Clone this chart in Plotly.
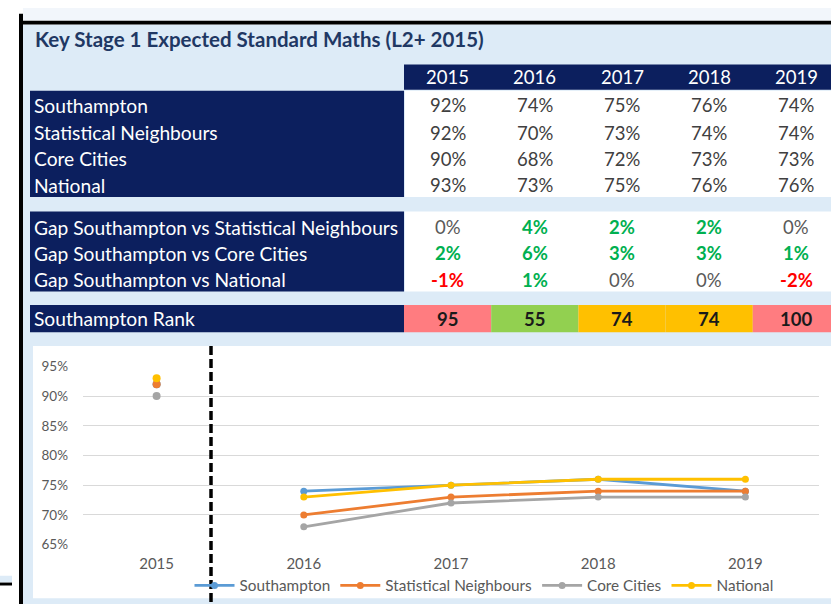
import plotly.graph_objects as go

# ---------------- data ----------------
years = ['2015', '2016', '2017', '2018', '2019']
series_names = ['Southampton', 'Statistical Neighbours', 'Core Cities', 'National']
southampton = [92, 74, 75, 76, 74]
stat_neighbours = [92, 70, 73, 74, 74]
core_cities = [90, 68, 72, 73, 73]
national = [93, 73, 75, 76, 76]
rank_values = [95, 55, 74, 74, 100]
gap_labels = ['Gap Southampton vs Statistical Neighbours',
              'Gap Southampton vs Core Cities',
              'Gap Southampton vs National']
rank_label = 'Southampton Rank'
title_text = 'Key Stage 1 Expected Standard Maths (L2+ 2015)'
y_ticks = [65, 70, 75, 80, 85, 90, 95]

# ---------------- styles ----------------
series_colors = ['#5B9BD5', '#ED7D31', '#A5A5A5', '#FFC000']
rank_colors = ['#FF7C80', '#92D050', '#FFC000', '#FFC000', '#FF7C80']
NAVY = '#0C1F5E'
LIGHT = '#DDEBF7'
FONT = 'Lato'

W, H = 831, 612
def px(x): return x / W
def py(y): return 1 - y / H

shapes = []
def rect(x0, y0, x1, y1, color, layer='below'):
    shapes.append(dict(type='rect', xref='paper', yref='paper',
                       x0=px(x0), x1=px(x1), y0=py(y1), y1=py(y0),
                       fillcolor=color, line=dict(width=0), layer=layer))

# backgrounds
rect(23, 0, 831, 13, '#F2F6FB')
rect(23, 17, 831, 612, LIGHT)
rect(0, 583, 12, 590, LIGHT)
rect(0, 590, 12, 593, 'black')
rect(19, 6, 23, 612, 'black')
rect(19, 13, 831, 17, 'black')
# table blocks
rect(404, 58, 831, 84, NAVY)
rect(30, 85, 404, 194, NAVY)
rect(405, 85, 831, 194, 'white')
rect(30, 209, 404, 291, NAVY)
rect(405, 209, 831, 291, 'white')
rect(30, 305, 404, 333, NAVY)
col_w = 87.2
for i, c in enumerate(rank_colors):
    rect(404 + col_w * i, 305, min(831, 404 + col_w * (i + 1)), 333, c)
# chart panel
rect(33, 347, 831, 606, 'white')

annotations = []
def text(x, y, s, color, size=18.5, anchor='center', bold=False):
    if bold:
        s = '<b>' + s + '</b>'
    annotations.append(dict(xref='paper', yref='paper', x=px(x), y=py(y), text=s,
                            showarrow=False, xanchor=anchor, yanchor='middle',
                            font=dict(family=FONT, size=size, color=color)))

LABEL_SIZE = 19.2
text(33, 32, title_text, '#1F3864', size=20.5, anchor='left', bold=True)
col_centers = [404 + col_w * (i + 0.5) for i in range(len(years))]
for i, yr in enumerate(years):
    text(col_centers[i], 71, yr, 'white', size=18.5)

all_series = [southampton, stat_neighbours, core_cities, national]
row_y = [100, 128, 155, 182]
for r, (name, vals) in enumerate(zip(series_names, all_series)):
    text(32, row_y[r], name, 'white', size=LABEL_SIZE, anchor='left')
    for i, v in enumerate(vals):
        text(col_centers[i], row_y[r], f'{v}%', '#404040')

gap_y = [225, 252, 279]
for r, (lab, comp) in enumerate(zip(gap_labels, [stat_neighbours, core_cities, national])):
    text(32, gap_y[r], lab, 'white', size=LABEL_SIZE, anchor='left')
    for i in range(len(years)):
        g = southampton[i] - comp[i]
        col = '#00B050' if g > 0 else ('#FF0000' if g < 0 else '#595959')
        text(col_centers[i], gap_y[r], f'{g}%', col, bold=(g != 0))

text(32, 319, rank_label, 'white', size=LABEL_SIZE, anchor='left')
for i, v in enumerate(rank_values):
    text(col_centers[i], 319, str(v), '#1A1A1A', bold=True)

# dashed separator
shapes.append(dict(type='line', xref='paper', yref='paper',
                   x0=px(211), x1=px(211), y0=py(347), y1=0,
                   line=dict(color='black', width=3.5, dash='9px,4px'), layer='above'))

fig = go.Figure()
for name, vals, col in zip(series_names, all_series, series_colors):
    fig.add_trace(go.Scatter(x=years[1:], y=vals[1:], mode='lines+markers', name=name,
                             line=dict(color=col, width=2.8),
                             marker=dict(color=col, size=7)))
for name, vals, col in zip(series_names, all_series, series_colors):
    fig.add_trace(go.Scatter(x=years[:1], y=vals[:1], mode='markers', name=name,
                             showlegend=False, marker=dict(color=col, size=8)))

fig.update_layout(
    width=W, height=H, autosize=False,
    margin=dict(l=0, r=0, t=0, b=0),
    paper_bgcolor='white', plot_bgcolor='rgba(0,0,0,0)',
    font=dict(family=FONT),
    shapes=shapes, annotations=annotations,
    showlegend=True,
    legend=dict(orientation='h', x=px(484), xanchor='center', y=py(593), yanchor='middle',
                itemwidth=40,
                font=dict(family=FONT, size=15.3, color='#595959'), bgcolor='rgba(0,0,0,0)'),
    xaxis=dict(domain=[px(83), px(819)], type='category', categoryorder='array',
               categoryarray=years, range=[-0.5, 4.5], showgrid=False, zeroline=False,
               showline=False, ticks='', tickfont=dict(family=FONT, size=15, color='#595959'),
               ticklabelstandoff=8, fixedrange=True),
    yaxis=dict(domain=[py(551), py(368)], range=[65, 95], tickmode='array',
               tickvals=y_ticks, ticktext=[f'{v}%' for v in y_ticks],
               showgrid=True, gridcolor='#D9D9D9', gridwidth=1, zeroline=False, showline=False,
               ticks='', tickfont=dict(family=FONT, size=13.5, color='#595959'),
               ticklabelstandoff=14, fixedrange=True),
)

fig.write_html('out.html',
               config={'responsive': False, 'displayModeBar': False, 'staticPlot': True},
               post_script="document.body.style.margin='0';document.body.style.overflow='hidden';")
